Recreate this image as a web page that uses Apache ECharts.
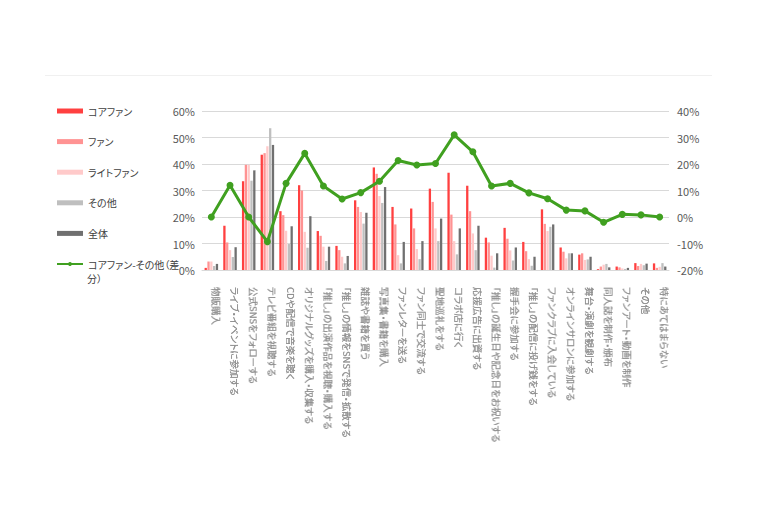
<!DOCTYPE html>
<html>
<head>
<meta charset="utf-8">
<script src="https://cdn.jsdelivr.net/npm/echarts@6/dist/echarts.min.js"></script>
<style>
html, body { margin: 0; padding: 0; background: #fff; }
#chart { width: 760px; height: 528px; }
#chart svg text { font-feature-settings: "palt" 1; }
</style>
</head>
<body>
<div id="chart"></div>
<script>
// 項目（ぼかされているので推定）
const categories = [
  '物販購入', 'ライブ・イベントに参加する', '公式SNSをフォローする', 'テレビ番組を視聴する',
  'CDや配信で音楽を聴く', 'オリジナルグッズを購入・収集する', '「推し」の出演作品を視聴・購入する',
  '「推し」の情報をSNSで発信・拡散する', '雑誌や書籍を買う', '写真集・書籍を購入', 'ファンレターを送る',
  'ファン同士で交流する', '聖地巡礼をする', 'コラボ店に行く', '応援広告に出資する',
  '「推し」の誕生日や記念日をお祝いする', '握手会に参加する', '「推し」の配信に投げ銭をする',
  'ファンクラブに入会している', 'オンラインサロンに参加する', '舞台・演劇を観劇する',
  '同人誌を制作・頒布', 'ファンアート・動画を制作', 'その他', '特にあてはまらない'
]
const coreFan  = [0.8, 16.7, 33.5, 43.5, 22.2, 32.0, 14.7, 9.1, 26.3, 38.7, 23.8, 23.2, 30.7, 36.7, 31.8, 12.2, 15.9, 10.6, 22.9, 8.5, 5.8, 0.3, 1.3, 2.6, 2.5]
const fan      = [3.2, 10.4, 39.7, 44.1, 20.7, 30.0, 12.9, 7.5, 23.8, 36.3, 17.2, 15.7, 25.7, 20.9, 22.2, 10.4, 11.8, 7.1, 17.4, 6.9, 6.3, 1.3, 1.0, 1.5, 0.8]
const lightFan = [3.2, 7.5, 39.7, 46.7, 14.8, 14.4, 8.8, 5.0, 21.9, 27.9, 5.6, 7.9, 15.7, 10.9, 13.8, 5.4, 7.4, 4.1, 14.7, 4.4, 3.8, 2.0, 0.6, 2.3, 1.2]
const others   = [1.5, 4.9, 33.7, 53.5, 9.8, 8.4, 3.4, 2.5, 17.5, 25.3, 2.5, 4.1, 10.9, 5.9, 7.5, 0.9, 3.6, 1.6, 16.3, 6.3, 4.0, 2.3, 0.4, 1.8, 2.6]
const total    = [2.3, 8.6, 37.6, 47.2, 16.5, 20.3, 8.8, 5.3, 21.6, 31.3, 10.6, 10.9, 19.4, 15.7, 16.7, 6.3, 8.5, 5.0, 17.2, 6.3, 5.0, 1.0, 0.8, 2.4, 1.3]
const diff     = [0, 12.0, 0, -9.3, 12.7, 24.0, 11.7, 6.8, 9.2, 13.5, 21.3, 19.6, 20.2, 31.0, 24.6, 11.7, 12.7, 9.1, 6.9, 2.6, 2.3, -2.0, 1.0, 0.8, 0]

const font = '"Noto Sans CJK JP", "Noto Sans", sans-serif'
const diffName = 'コアファン-その他（差分）'

function barSeries(name, data, color){
  return {
    name: name,
    type: 'bar',
    data: data,
    barWidth: 2.3,
    barGap: '22%',
    itemStyle: { color: color }
  }
}

let dom = document.getElementById('chart')
let chart = echarts.init(dom, null, { renderer: 'svg' })
let option = {
  animation: false,
  backgroundColor: '#fff',
  textStyle: { fontFamily: font },
  grid: { left: 202, right: 91, top: 111, bottom: 258 },
  legend: {
    orient: 'vertical',
    left: 56,
    top: 104,
    padding: 0,
    itemWidth: 26,
    itemHeight: 5,
    itemGap: 16.6,
    textStyle: { fontSize: 10, color: '#404040', fontFamily: font, lineHeight: 14 },
    formatter: function(name){
      return name === diffName ? 'コアファン-その他（差' : name
    },
    data: [
      { name: 'コアファン', icon: 'rect' },
      { name: 'ファン', icon: 'rect' },
      { name: 'ライトファン', icon: 'rect' },
      { name: 'その他', icon: 'rect' },
      { name: '全体', icon: 'rect' },
      { name: diffName }
    ]
  },
  graphic: [
    { type: 'line', shape: { x1: 45, y1: 75.5, x2: 712, y2: 75.5 }, style: { stroke: '#f0f0f0', lineWidth: 1 } },
    { type: 'text', left: 87, top: 273, style: { text: '分）', fontSize: 10, fill: '#404040', fontFamily: font } }
  ],
  xAxis: {
    type: 'category',
    data: categories,
    axisTick: { show: false },
    axisLine: { lineStyle: { color: '#d9d9d9' } },
    axisLabel: {
      interval: 0,
      rotate: -90,
      margin: 17,
      verticalAlign: 'bottom',
      fontSize: 9.5,
      color: '#8f8f8f',
      fontFamily: font,
      textShadowColor: 'rgba(120,120,120,0.8)',
      textShadowBlur: 3
    }
  },
  yAxis: [
    {
      type: 'value',
      min: 0, max: 60, interval: 10,
      axisLabel: { formatter: '{value}%', fontSize: 11, color: '#595959', margin: 7 },
      axisLine: { show: false },
      axisTick: { show: false },
      splitLine: { lineStyle: { color: '#d9d9d9', width: 1 } }
    },
    {
      type: 'value',
      min: -20, max: 40, interval: 10,
      axisLabel: { formatter: '{value}%', fontSize: 11, color: '#595959', margin: 8 },
      axisLine: { show: false },
      axisTick: { show: false },
      splitLine: { show: false }
    }
  ],
  series: [
    barSeries('コアファン', coreFan, '#ff4040'),
    barSeries('ファン', fan, '#ff9393'),
    barSeries('ライトファン', lightFan, '#ffcaca'),
    barSeries('その他', others, '#bfbfbf'),
    barSeries('全体', total, '#707070'),
    {
      name: diffName,
      type: 'line',
      yAxisIndex: 1,
      data: diff,
      symbol: 'circle',
      symbolSize: 7,
      z: 5,
      lineStyle: { color: '#40a020', width: 3 },
      itemStyle: { color: '#40a020' }
    }
  ]
}
option && chart.setOption(option)
window.addEventListener('resize', () => chart.resize())
</script>
</body>
</html>
